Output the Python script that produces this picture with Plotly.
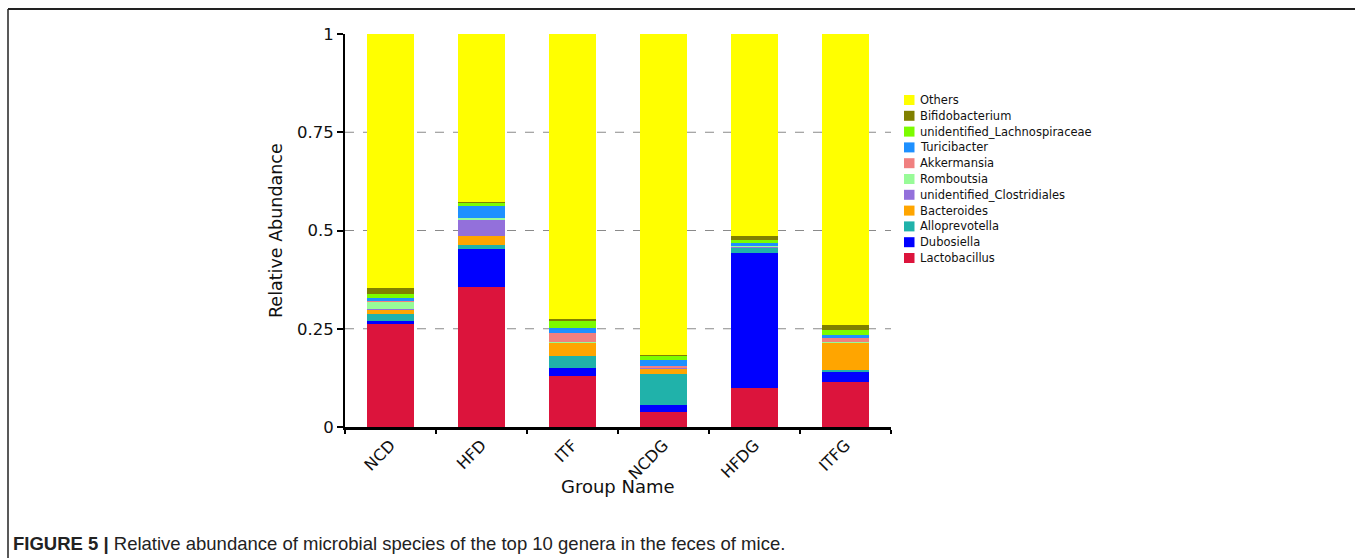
import plotly.graph_objects as go

# Groups along the x axis
groups = ["NCD", "HFD", "ITF", "NCDG", "HFDG", "ITFG"]

# Relative abundance of each genus per group (stacked bottom to top)
lactobacillus = [0.262, 0.355, 0.131, 0.038, 0.100, 0.114]
dubosiella = [0.008, 0.097, 0.020, 0.017, 0.344, 0.026]
alloprevotella = [0.017, 0.012, 0.029, 0.080, 0.012, 0.004]
bacteroides = [0.013, 0.023, 0.034, 0.015, 0.002, 0.070]
unidentified_clostridiales = [0.001, 0.040, 0.001, 0.001, 0.001, 0.001]
romboutsia = [0.018, 0.005, 0.002, 0.001, 0.002, 0.001]
akkermansia = [0.002, 0.001, 0.023, 0.002, 0.002, 0.011]
turicibacter = [0.008, 0.029, 0.013, 0.017, 0.005, 0.006]
unidentified_lachnospiraceae = [0.010, 0.008, 0.019, 0.010, 0.007, 0.013]
bifidobacterium = [0.014, 0.003, 0.004, 0.002, 0.010, 0.013]
others = [0.647, 0.427, 0.724, 0.817, 0.515, 0.741]

series = [
    ("Lactobacillus", lactobacillus, "#DC143C"),
    ("Dubosiella", dubosiella, "#0000FF"),
    ("Alloprevotella", alloprevotella, "#20B2AA"),
    ("Bacteroides", bacteroides, "#FFA500"),
    ("unidentified_Clostridiales", unidentified_clostridiales, "#9370DB"),
    ("Romboutsia", romboutsia, "#98FB98"),
    ("Akkermansia", akkermansia, "#F08080"),
    ("Turicibacter", turicibacter, "#1E90FF"),
    ("unidentified_Lachnospiraceae", unidentified_lachnospiraceae, "#7CFC00"),
    ("Bifidobacterium", bifidobacterium, "#808000"),
    ("Others", others, "#FFFF00"),
]

y_ticks = [0, 0.25, 0.5, 0.75, 1]
y_tick_text = ["0", "0.25", "0.5", "0.75", "1"]
grid_values = [0.25, 0.5, 0.75]

# Page geometry in pixels
W, H = 1355, 558
L, R, T, B = 345, 891, 34, 427


def px_x(x):
    return (x - L) / (R - L)


def px_y(y):
    return (B - y) / (B - T)


fig = go.Figure()
for name, vals, color in series:
    fig.add_trace(go.Bar(
        x=groups, y=vals, name=name, width=0.51,
        marker=dict(color=color, line=dict(width=0)),
        showlegend=False,
    ))

shapes = []
# dashed reference lines
for g in grid_values:
    shapes.append(dict(type="line", xref="paper", yref="y", x0=0, x1=1, y0=g, y1=g,
                       line=dict(color="#8a8a8a", width=1, dash="dash"), layer="below"))
# outer frame of the figure panel
shapes.append(dict(type="line", xref="paper", yref="paper",
                   x0=px_x(8), x1=px_x(8), y0=px_y(9), y1=px_y(H + 5),
                   line=dict(color="#222222", width=1.5)))
shapes.append(dict(type="line", xref="paper", yref="paper",
                   x0=px_x(8), x1=px_x(W + 5), y0=px_y(9), y1=px_y(9),
                   line=dict(color="#222222", width=2)))

annotations = []
# custom legend, top entry = top of stack
legend_x, legend_y0, legend_step = 904, 100, 15.8
for i, (name, vals, color) in enumerate(reversed(series)):
    yc = legend_y0 + i * legend_step
    shapes.append(dict(type="rect", xref="paper", yref="paper",
                       x0=px_x(legend_x), x1=px_x(legend_x + 10.5),
                       y0=px_y(yc - 5), y1=px_y(yc + 5),
                       fillcolor=color, line=dict(width=0)))
    annotations.append(dict(text=name, xref="paper", yref="paper",
                            x=px_x(legend_x + 13.5), y=px_y(yc),
                            xanchor="left", yanchor="middle", showarrow=False,
                            font=dict(family="DejaVu Sans", size=11.5, color="#111111")))

# axis titles
annotations.append(dict(text="Relative Abundance", xref="paper", yref="paper",
                        x=px_x(276), y=px_y(231), textangle=-90, showarrow=False,
                        xanchor="center", yanchor="middle",
                        font=dict(family="DejaVu Sans", size=17.5, color="#111111")))
annotations.append(dict(text="Group Name", xref="paper", yref="paper",
                        x=px_x(618), y=px_y(486), showarrow=False,
                        xanchor="center", yanchor="middle",
                        font=dict(family="DejaVu Sans", size=18, color="#111111")))
# caption
annotations.append(dict(
    text="<b>FIGURE 5 |</b> Relative abundance of microbial species of the top 10 genera in the feces of mice.",
    xref="paper", yref="paper", x=px_x(11), y=px_y(543), showarrow=False,
    xanchor="left", yanchor="middle",
    font=dict(family="Liberation Sans, Arial, sans-serif", size=18.5, color="#222222")))

fig.update_layout(
    barmode="stack",
    width=W, height=H,
    margin=dict(l=L, r=W - R, t=T, b=H - B, pad=0),
    paper_bgcolor="white", plot_bgcolor="white",
    shapes=shapes, annotations=annotations,
    showlegend=False,
    bargap=0.49,
)
fig.update_xaxes(
    type="category", showgrid=False, showline=True, linecolor="black", linewidth=2.5,
    ticks="outside", tickson="boundaries", ticklen=4, tickwidth=2, tickcolor="black",
    tickangle=-45, tickfont=dict(family="DejaVu Sans", size=16, color="#111111"),
    zeroline=False,
)
fig.update_yaxes(
    range=[0, 1], tickvals=y_ticks, ticktext=y_tick_text, showgrid=False,
    showline=True, linecolor="black", linewidth=2, ticks="outside", ticklen=6,
    tickwidth=1.5, tickcolor="black", zeroline=False,
    tickfont=dict(family="DejaVu Sans", size=16.5, color="#111111"),
)

fig.write_html("out.html")
